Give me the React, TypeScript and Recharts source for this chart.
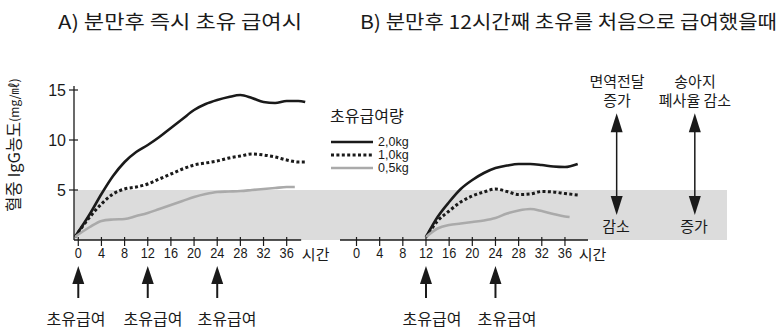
import React from 'react'
import { LineChart, Line, XAxis, YAxis, ReferenceArea, ReferenceLine, Legend } from 'recharts'

const KR = "'Noto Sans CJK KR', 'Noto Sans', sans-serif"
const NUM = "'Liberation Sans', Arial, sans-serif"
const INK = '#1a1a1a'

// A) colostrum right after calving
const hoursA = [-0.6, 2, 4, 6, 8, 10, 12, 14, 16, 18, 20, 22, 24, 26, 28, 30, 32, 34, 36, 38, 39.2]
const kg20A = [0.3, 2.6, 4.6, 6.4, 7.8, 8.8, 9.5, 10.3, 11.2, 12.1, 13.0, 13.6, 14.0, 14.3, 14.5, 14.2, 13.8, 13.7, 13.9, 13.9, 13.8]
const kg10A = [0.3, 2.3, 3.6, 4.6, 5.1, 5.3, 5.6, 6.1, 6.6, 7.1, 7.5, 7.7, 7.9, 8.2, 8.4, 8.6, 8.5, 8.3, 8.0, 7.8, 7.8]
const hours05A = [-0.6, 2, 4, 6, 8, 10, 12, 14, 16, 18, 20, 22, 24, 26, 28, 30, 32, 34, 36, 37.4]
const kg05A = [0.3, 1.3, 1.9, 2.05, 2.1, 2.4, 2.7, 3.1, 3.5, 3.9, 4.3, 4.6, 4.8, 4.85, 4.9, 5.0, 5.1, 5.2, 5.3, 5.3]

// B) first colostrum 12 h after calving
const hoursB = [12, 14, 16, 18, 20, 22, 24, 26, 28, 30, 32, 34, 36, 38.2]
const kg20B = [0.3, 2.3, 3.8, 5.1, 6.0, 6.7, 7.2, 7.45, 7.6, 7.6, 7.5, 7.35, 7.3, 7.6]
const kg10B = [0.3, 1.9, 2.9, 3.8, 4.4, 4.8, 5.1, 4.85, 4.55, 4.6, 4.85, 4.8, 4.65, 4.5]
const hours05B = [12, 14, 16, 18, 20, 22, 24, 26, 28, 30, 32, 34, 36, 36.8]
const kg05B = [0.3, 1.15, 1.5, 1.65, 1.8, 1.95, 2.2, 2.65, 2.95, 3.1, 2.9, 2.6, 2.35, 2.3]

const hourTicks = [0, 4, 8, 12, 16, 20, 24, 28, 32, 36]
const valueTicks = [5, 10, 15]
const doseLabels = ['2,0kg', '1,0kg', '0,5kg']
const feedA = [0, 12, 24]
const feedB = [12, 24]

const pts = (hs: number[], vs: number[]) => hs.map((h, i) => ({ h, v: vs[i] }))

const styles = [
  { stroke: INK, strokeWidth: 2.6, dash: undefined },
  { stroke: INK, strokeWidth: 3, dash: '3 2.4' },
  { stroke: '#aaaaaa', strokeWidth: 2.6, dash: undefined },
]

function HourTick({ x, y, payload }: any) {
  const v = payload.value
  if (v > 38) {
    return (
      <text x={x} y={y + 13} textAnchor="middle" dominantBaseline="central" fontSize={15} fontFamily={KR} fill={INK}>
        시간
      </text>
    )
  }
  return (
    <g>
      <line x1={x} x2={x} y1={y - 3} y2={y + 6} stroke={INK} strokeWidth={1.2} />
      <text transform={`translate(${x},${y + 13}) scale(0.85,1)`} textAnchor="middle" dominantBaseline="central" fontSize={15} fontFamily={NUM} fill={INK}>
        {v}
      </text>
    </g>
  )
}

function ValueTick({ x, y, payload }: any) {
  return (
    <g>
      <line x1={x - 5} x2={x + 4} y1={y} y2={y} stroke={INK} strokeWidth={1.2} />
      <text x={x - 8} y={y} textAnchor="end" dominantBaseline="central" fontSize={16} fontFamily={NUM} fill={INK}>
        {payload.value}
      </text>
    </g>
  )
}

function upArrow(props: any) {
  const { x1, y1, y2 } = props
  return (
    <g>
      <line x1={x1} x2={x1} y1={y1 + 14} y2={y2} stroke={INK} strokeWidth={2} />
      <polygon points={`${x1},${y1} ${x1 - 6},${y1 + 18} ${x1 + 6},${y1 + 18}`} fill={INK} />
    </g>
  )
}

function doubleArrow(props: any) {
  const { x1, y1, y2 } = props
  return (
    <g>
      <line x1={x1} x2={x1} y1={y1 + 14} y2={y2 - 14} stroke={INK} strokeWidth={1.5} />
      <polygon points={`${x1},${y1} ${x1 - 6},${y1 + 19} ${x1 + 6},${y1 + 19}`} fill={INK} />
      <polygon points={`${x1},${y2} ${x1 - 6},${y2 - 19} ${x1 + 6},${y2 - 19}`} fill={INK} />
    </g>
  )
}

function DoseLegend() {
  return (
    <div style={{ fontFamily: KR, color: INK }}>
      <div style={{ fontSize: 16, lineHeight: '22px', whiteSpace: 'nowrap' }}>초유급여량</div>
      <div style={{ height: 9 }} />
      {doseLabels.map((d, i) => (
        <div key={d} style={{ display: 'flex', alignItems: 'center', height: 13.3, overflow: 'visible' }}>
          <svg width={48} height={8} style={{ flex: 'none' }}>
            <line x1={1} x2={43} y1={4} y2={4} stroke={styles[i].stroke} strokeWidth={styles[i].strokeWidth} strokeDasharray={styles[i].dash} />
          </svg>
          <span style={{ fontSize: 12.5, fontFamily: NUM, lineHeight: '12px', display: 'inline-block' }}>{d}</span>
        </div>
      ))}
    </div>
  )
}

const chartMargin = { top: 86, bottom: 62 }

export default function App() {
  const seriesA = [pts(hoursA, kg20A), pts(hoursA, kg10A), pts(hours05A, kg05A)]
  const seriesB = [pts(hoursB, kg20B), pts(hoursB, kg10B), pts(hours05B, kg05B)]

  return (
    <div style={{ position: 'absolute', left: 0, top: 0, width: 781, height: 332, background: '#fff', overflow: 'hidden' }}>
      <div style={{ position: 'absolute', left: 0, top: 0 }}>
        <LineChart width={781} height={332} margin={{ ...chartMargin, left: 34, right: 54 }}>
          <ReferenceArea y1={0} y2={5} fill="#dcdcdc" fillOpacity={1} stroke="none" />
          <XAxis
            type="number"
            dataKey="h"
            domain={[-0.74, 112.06]}
            ticks={[...hourTicks, 41]}
            interval={0}
            allowDataOverflow
            axisLine={false}
            tickLine={false}
            tickSize={0}
            tickMargin={0}
            height={30}
            tick={(p: any) => <HourTick {...p} />}
          />
          <YAxis
            type="number"
            domain={[0, 15.4]}
            ticks={valueTicks}
            interval={0}
            allowDataOverflow
            width={40}
            tickLine={false}
            tickSize={0}
            tickMargin={0}
            axisLine={{ stroke: INK, strokeWidth: 1.3 }}
            tick={(p: any) => <ValueTick {...p} />}
          />
          <ReferenceLine segment={[{ x: -0.74, y: 0 }, { x: 38.5, y: 0 }]} stroke={INK} strokeWidth={1.5} ifOverflow="visible" />
          {seriesA.map((d, i) => (
            <Line
              key={i}
              data={d}
              dataKey="v"
              type="monotone"
              stroke={styles[i].stroke}
              strokeWidth={styles[i].strokeWidth}
              strokeDasharray={styles[i].dash}
              dot={false}
              isAnimationActive={false}
            />
          ))}
          {feedA.map((h) => (
            <ReferenceLine key={h} segment={[{ x: h, y: -2.6 }, { x: h, y: -5.8 }]} ifOverflow="visible" shape={upArrow} />
          ))}
          <ReferenceLine segment={[{ x: 93, y: 12.67 }, { x: 93, y: 2.5 }]} ifOverflow="visible" shape={doubleArrow} />
          <ReferenceLine segment={[{ x: 106.5, y: 12.67 }, { x: 106.5, y: 2.5 }]} ifOverflow="visible" shape={doubleArrow} />
          <Legend
            layout="vertical"
            align="center"
            verticalAlign="middle"
            wrapperStyle={{ left: 330, top: 104, width: 100 }}
            content={() => <DoseLegend />}
          />
        </LineChart>
      </div>

      <div style={{ position: 'absolute', left: 0, top: 0 }}>
        <LineChart width={781} height={332} margin={{ ...chartMargin, left: 340, right: 141 }}>
          <XAxis
            type="number"
            dataKey="h"
            domain={[-2.85, 48.96]}
            ticks={[...hourTicks, 40.75]}
            interval={0}
            allowDataOverflow
            axisLine={false}
            tickLine={false}
            tickSize={0}
            tickMargin={0}
            height={30}
            tick={(p: any) => <HourTick {...p} />}
          />
          <YAxis hide type="number" domain={[0, 15.4]} allowDataOverflow />
          <ReferenceLine segment={[{ x: -2.85, y: 0 }, { x: 39.98, y: 0 }]} stroke={INK} strokeWidth={1.5} ifOverflow="visible" />
          {seriesB.map((d, i) => (
            <Line
              key={i}
              data={d}
              dataKey="v"
              type="monotone"
              stroke={styles[i].stroke}
              strokeWidth={styles[i].strokeWidth}
              strokeDasharray={styles[i].dash}
              dot={false}
              isAnimationActive={false}
            />
          ))}
          {feedB.map((h) => (
            <ReferenceLine key={h} segment={[{ x: h, y: -2.6 }, { x: h, y: -5.8 }]} ifOverflow="visible" shape={upArrow} />
          ))}
        </LineChart>
      </div>

      <svg width={781} height={332} style={{ position: 'absolute', left: 0, top: 0, pointerEvents: 'none' }} fontFamily={KR} fill={INK}>
        <text x={58} y={20} dominantBaseline="central" fontSize={19} textLength={244} lengthAdjust="spacingAndGlyphs">A) 분만후 즉시 초유 급여시</text>
        <text x={360} y={20} dominantBaseline="central" fontSize={19} textLength={417} lengthAdjust="spacingAndGlyphs">B) 분만후 12시간째 초유를 처음으로 급여했을때</text>
        <text transform="translate(13,145) rotate(-90)" textAnchor="middle" dominantBaseline="central" fontSize={16.5}>
          혈중 IgG농도<tspan fontSize={12}>(mg/㎖)</tspan>
        </text>
        <g textAnchor="middle" fontSize={15}>
          <text x={617} y={80} dominantBaseline="central">면역전달</text>
          <text x={617} y={99} dominantBaseline="central">증가</text>
          <text x={695} y={80} dominantBaseline="central">송아지</text>
          <text x={695} y={99} dominantBaseline="central">폐사율 감소</text>
          <text x={616} y={225} dominantBaseline="central">감소</text>
          <text x={694} y={225} dominantBaseline="central">증가</text>
        </g>
        <g textAnchor="middle" fontSize={16}>
          <text x={76} y={318} dominantBaseline="central">초유급여</text>
          <text x={153} y={318} dominantBaseline="central">초유급여</text>
          <text x={227} y={318} dominantBaseline="central">초유급여</text>
          <text x={432} y={318} dominantBaseline="central">초유급여</text>
          <text x={507} y={318} dominantBaseline="central">초유급여</text>
        </g>
      </svg>
    </div>
  )
}
